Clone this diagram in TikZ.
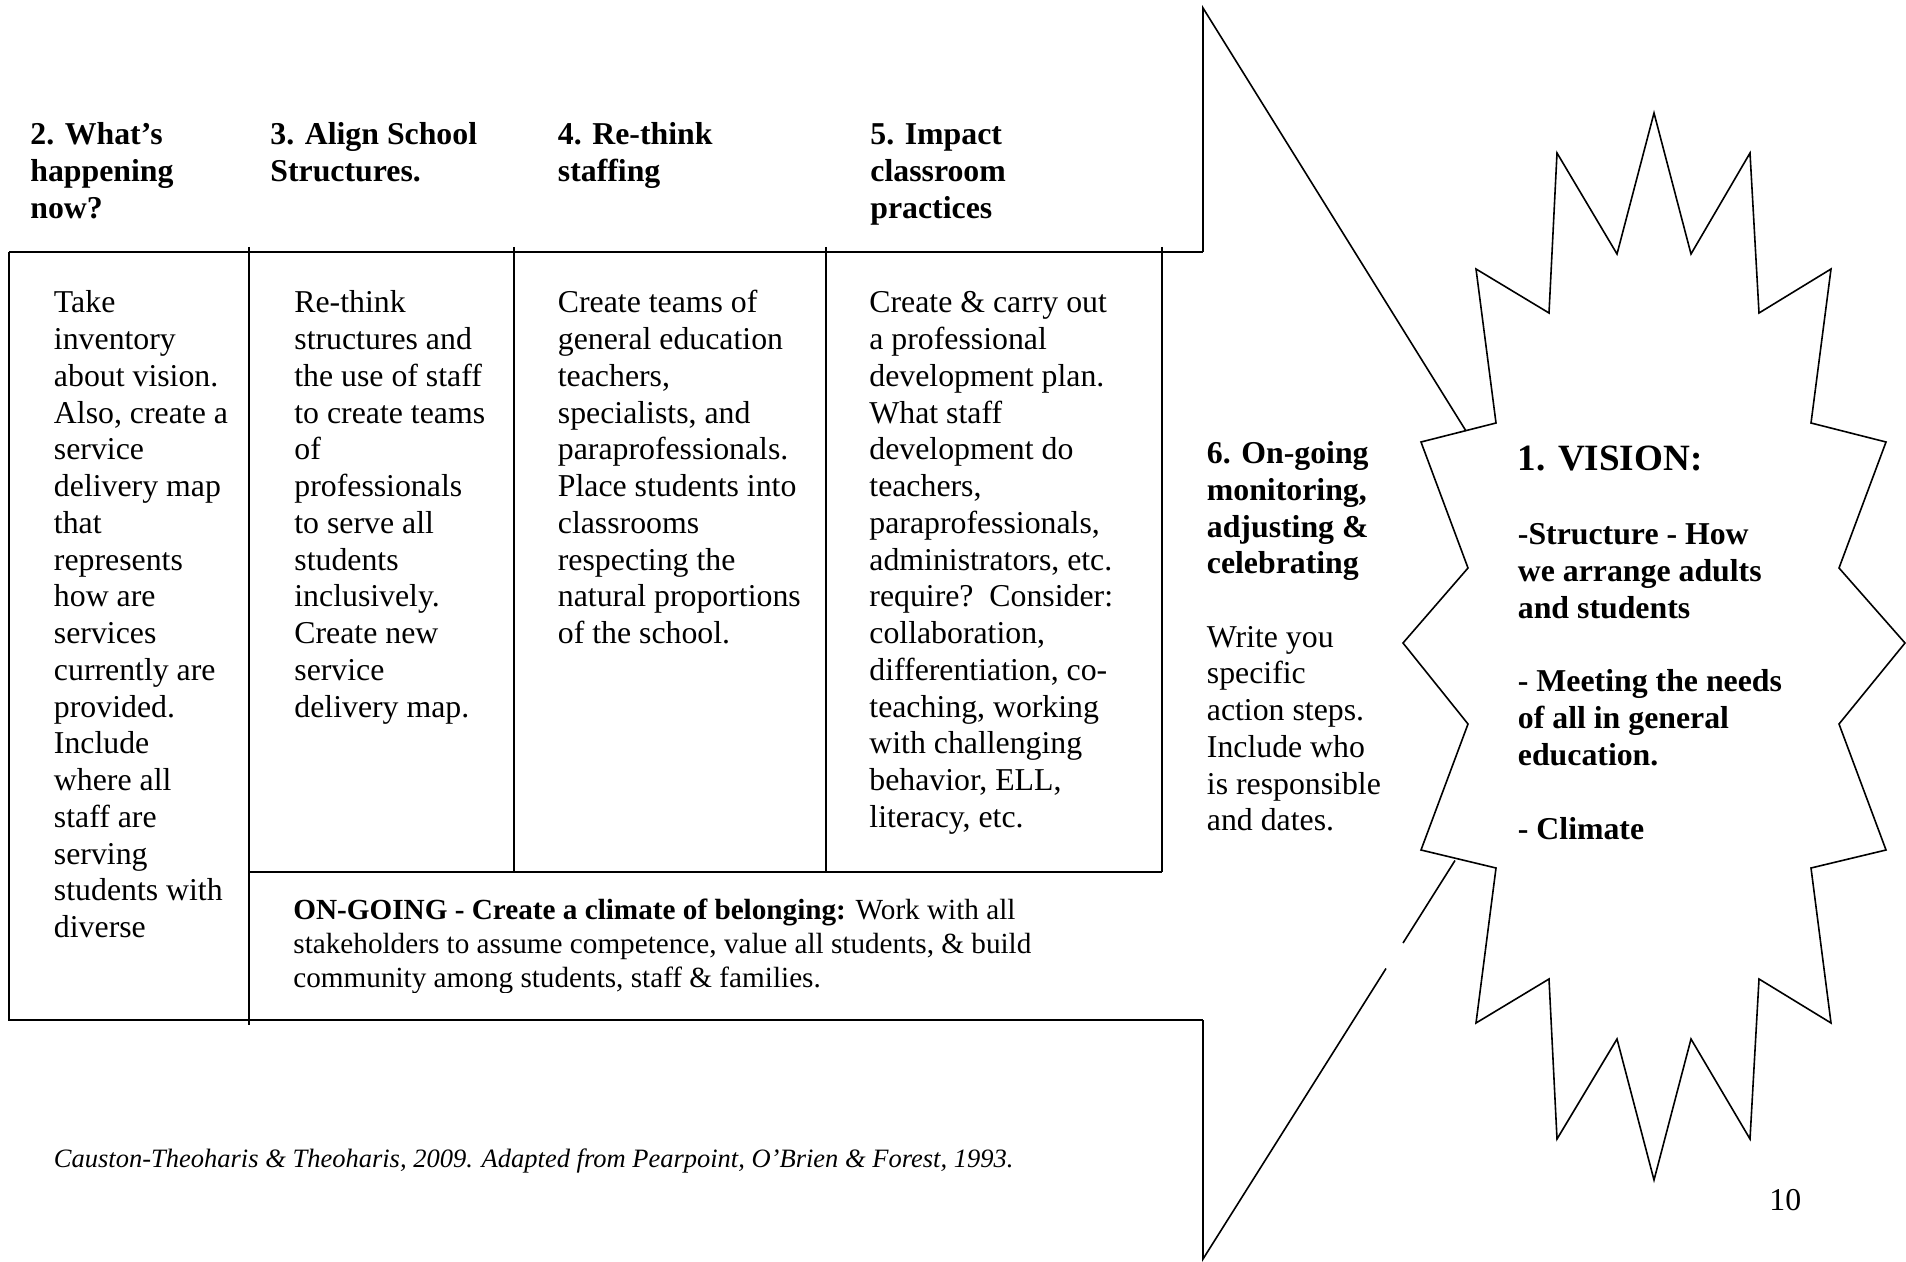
\documentclass[tikz,border=0pt]{standalone}
\usepackage{fontspec}
\setmainfont{Liberation Serif}
\newcommand{\lns}[1]{\begin{tabular}[t]{@{}l@{}}#1\end{tabular}}
\begin{document}
\begin{tikzpicture}[x=0.5pt,y=-0.5pt,
  tline/.style={line width=1pt},
  sline/.style={line width=0.8pt},
  body/.style={anchor=base west, inner sep=0pt, font=\fontsize{15.9}{18.375}\selectfont},
  head/.style={anchor=base west, inner sep=0pt, font=\fontsize{15.9}{18.5}\selectfont\bfseries},
  vis/.style={anchor=base west, inner sep=0pt, font=\fontsize{18.55}{21.3}\selectfont\bfseries},
  small/.style={anchor=base west, inner sep=0pt, font=\fontsize{14.6}{16.95}\selectfont},
  cite/.style={anchor=base west, inner sep=0pt, font=\fontsize{13.25}{15.2}\selectfont\itshape}]
\useasboundingbox (0,0) rectangle (1906,1262);

% star
\filldraw[sline, fill=white] (1403,643) -- (1468,568) -- (1421,442) -- (1496,423) -- (1476,269) -- (1549,313) -- (1557,153) -- (1617,254) -- (1654,113) -- (1691,254) -- (1750,153) -- (1759,313) -- (1831,269) -- (1811,423) -- (1886,442) -- (1839,568) -- (1905,643) -- (1839,724) -- (1886,850) -- (1811,868) -- (1831,1023) -- (1759,979) -- (1750,1139) -- (1691,1039) -- (1654,1180) -- (1617,1039) -- (1557,1139) -- (1549,979) -- (1476,1023) -- (1496,868) -- (1421,850) -- (1468,724) -- cycle;

% callout arrow
\coordinate (atop) at (1203,8);
\coordinate (acorner) at (1203,252);
\coordinate (aend) at (1466,431);
\coordinate (bcorner) at (1203,1020);
\coordinate (bbot) at (1203,1259);
\coordinate (bgap1) at (1386,968.5);
\coordinate (bgap2) at (1403,943);
\coordinate (bend) at (1455,860.5);
\draw[sline] (acorner) -- (atop) -- (aend);
\draw[sline] (bcorner) -- (bbot) -- (bgap1);
\draw[sline] (bgap2) -- (bend);

% table
\draw[tline] (9,252) -- (acorner);
\draw[tline] (9,252) -- (9,1020) -- (bcorner);
\draw[tline] (249,247) -- (249,1025);
\draw[tline] (514,247) -- (514,872);
\draw[tline] (826,247) -- (826,872);
\draw[tline] (1162,247) -- (1162,872);
\draw[tline] (249,872) -- (1162,872);

% headers
\node[head] (h2) at (30,145) {\lns{2. What's\\happening\\now?}};
\node[head] (h3) at (270,145) {\lns{3. Align School\\Structures.}};
\node[head] (h4) at (557.5,145) {\lns{4. Re-think\\staffing}};
\node[head] (h5) at (870,145) {\lns{5. Impact\\classroom\\practices}};

% columns
\node[body] (c1) at (53.6,313) {\lns{Take\\inventory\\about vision.\\Also, create a\\service\\delivery map\\that\\represents\\how are\\services\\currently are\\provided.\\Include\\where all\\staff are\\serving\\students with\\diverse}};
\node[body] (c2) at (294,313) {\lns{Re-think\\structures and\\the use of staff\\to create teams\\of\\professionals\\to serve all\\students\\inclusively.\\Create new\\service\\delivery map.}};
\node[body] (c3) at (557.5,313) {\lns{Create teams of\\general education\\teachers,\\specialists, and\\paraprofessionals.\\Place students into\\classrooms\\respecting the\\natural proportions\\of the school.}};
\node[body] (c4) at (869,313) {\lns{Create \& carry out\\a professional\\development plan.\\What staff\\development do\\teachers,\\paraprofessionals,\\administrators, etc.\\require?\ \ Consider:\\collaboration,\\differentiation, co-\\teaching, working\\with challenging\\behavior, ELL,\\literacy, etc.}};
\node[body] (c6) at (1206.5,463.5) {\lns{\textbf{6. On-going}\\\textbf{monitoring,}\\\textbf{adjusting \&}\\\textbf{celebrating}\\ \\Write you\\specific\\action steps.\\Include who\\is responsible\\and dates.}};

% bottom box
\begin{scope}
\clip (252,876) rectangle (1160,992);
\node[small] (ong) at (293,919.5) {\lns{\textbf{ON-GOING - Create a climate of belonging:} Work with all\\stakeholders to assume competence, value all students, \& build\\community among students, staff \& families.}};
\end{scope}

% vision
\node[vis] (v1) at (1517.5,470.5) {1. VISION:};
\node[head] (v2) at (1517.5,544) {\lns{-Structure - How\\we arrange adults\\and students\\ \\- Meeting the needs\\of all in general\\education.\\ \\- Climate}};

% citation and page number
\node[cite] (cit) at (53.6,1167) {Causton-Theoharis \& Theoharis, 2009. Adapted from Pearpoint, O'Brien \& Forest, 1993.};
\node[body] (pg) at (1769,1210) {10};
\end{tikzpicture}
\end{document}
